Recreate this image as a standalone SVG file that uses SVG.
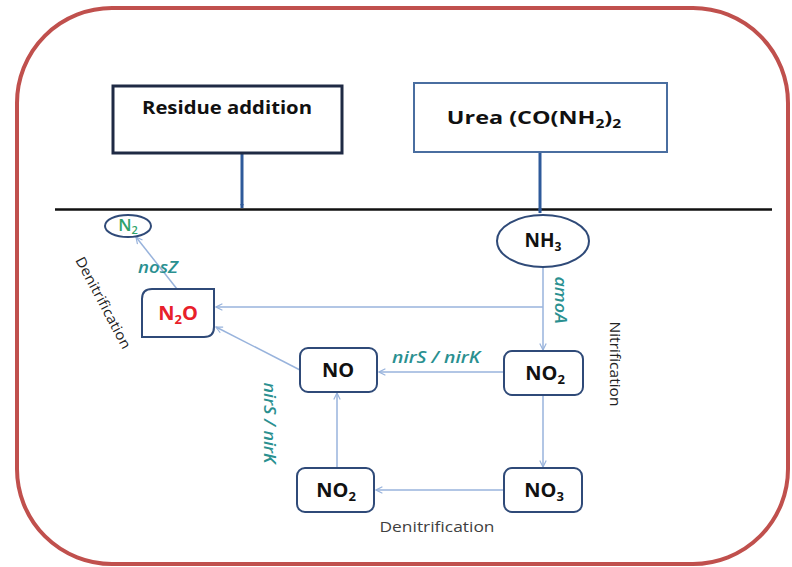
<svg xmlns="http://www.w3.org/2000/svg" width="792" height="567" viewBox="0 0 792 567">
<defs>
<style>
.node{fill:#fff;stroke:#2f4a78;stroke-width:2}
.lbl{font-family:"Open Sans","Liberation Sans",sans-serif;font-weight:bold;fill:#111;text-anchor:middle}
.gene{font-family:"Open Sans","Liberation Sans",sans-serif;font-style:italic;font-weight:600;fill:#2a9090;font-size:16px;text-anchor:middle}
.proc{font-family:"Open Sans","Liberation Sans",sans-serif;fill:#222;font-size:14px;text-anchor:middle}
.con{fill:none;stroke:#98b3dc;stroke-width:1.5;marker-end:url(#a)}
.feed{fill:none;stroke:#2f5a9a;stroke-width:3;marker-end:url(#b)}
</style>
<marker id="a" viewBox="0 0 10 10" refX="9" refY="5" markerWidth="8" markerHeight="8" markerUnits="userSpaceOnUse" orient="auto">
<path d="M1,1 L9,5 L1,9" fill="none" stroke="#98b3dc" stroke-width="1.5"/>
</marker>
<marker id="b" viewBox="0 0 10 10" refX="9" refY="5" markerWidth="5" markerHeight="5" markerUnits="userSpaceOnUse" orient="auto">
<path d="M0,1 L10,5 L0,9 Z" fill="#2f5a9a"/>
</marker>
</defs>
<rect x="17" y="8" width="771" height="556" rx="95" ry="95" fill="#fff" stroke="#c0504d" stroke-width="4"/>
<line x1="55" y1="209.5" x2="772" y2="209.5" stroke="#111" stroke-width="2.5"/>
<g id="connectors">
<path class="feed" d="M242,154 V208"/>
<path class="feed" d="M540,153 V213"/>
<path class="con" d="M543,267 V350"/>
<path class="con" d="M543,307 H216"/>
<path class="con" d="M504,372 H379"/>
<path class="con" d="M543,395 V467"/>
<path class="con" d="M504,490 H376"/>
<path class="con" d="M337,468 V393"/>
<path class="con" d="M300,370 L216,327"/>
<path class="con" d="M177,289 L136,237"/>
</g>
<g id="residue">
<rect x="113" y="86" width="229" height="67" fill="#fff" stroke="#1f2a44" stroke-width="3"/>
<text class="lbl" x="227" y="114" font-size="18" textLength="170" lengthAdjust="spacingAndGlyphs">Residue addition</text>
</g>
<g id="urea">
<rect x="414" y="83" width="253" height="69" fill="#fff" stroke="#4a6ea0" stroke-width="2"/>
<text class="lbl" transform="translate(534,124) scale(1.3,1)" x="0" y="0" font-size="18">Urea (CO(NH<tspan font-size="12" dy="4">2</tspan><tspan dy="-4">)</tspan><tspan font-size="12" dy="4">2</tspan></text>
</g>
<g id="n2">
<ellipse class="node" cx="128" cy="226" rx="23" ry="11"/>
<text x="128" y="231" font-family="Open Sans,Liberation Sans,sans-serif" font-weight="600" font-size="17" fill="#2fa36b" text-anchor="middle">N<tspan font-size="11" dy="3">2</tspan></text>
</g>
<g id="n2o">
<path class="node" d="M152,289 H214 V327 Q214,337 204,337 H142 V299 Q142,289 152,289 Z"/>
<text class="lbl" x="178" y="320" font-size="20" style="fill:#e8202a">N<tspan font-size="13" dy="4">2</tspan><tspan dy="-4">O</tspan></text>
</g>
<g id="nh3">
<ellipse class="node" cx="543" cy="241" rx="46" ry="26"/>
<text class="lbl" x="543" y="247" font-size="19">NH<tspan font-size="12" dy="4">3</tspan></text>
</g>
<g id="no2r">
<rect class="node" x="504" y="351" width="79" height="44" rx="8"/>
<text class="lbl" x="545" y="380" font-size="20">NO<tspan font-size="13" dy="4">2</tspan></text>
</g>
<g id="no3">
<rect class="node" x="504" y="468" width="78" height="44" rx="8"/>
<text class="lbl" x="544" y="497" font-size="20">NO<tspan font-size="13" dy="4">3</tspan></text>
</g>
<g id="no">
<rect class="node" x="300" y="348" width="77" height="44" rx="8"/>
<text class="lbl" x="338" y="377" font-size="20">NO</text>
</g>
<g id="no2l">
<rect class="node" x="297" y="468" width="77" height="44" rx="8"/>
<text class="lbl" x="336" y="497" font-size="20">NO<tspan font-size="13" dy="4">2</tspan></text>
</g>
<g id="labels">
<text class="gene" x="158" y="273" textLength="40" lengthAdjust="spacingAndGlyphs">nosZ</text>
<text class="gene" transform="translate(555,300) rotate(90)" x="0" y="0" textLength="47" lengthAdjust="spacingAndGlyphs">amoA</text>
<text class="gene" x="436" y="363" textLength="88" lengthAdjust="spacingAndGlyphs">nirS / nirK</text>
<text class="gene" transform="translate(264,423) rotate(90)" x="0" y="0" textLength="81" lengthAdjust="spacingAndGlyphs">nirS / nirK</text>
<text class="proc" transform="translate(99,305) rotate(62)" x="0" y="0" textLength="102" lengthAdjust="spacingAndGlyphs">Denitrification</text>
<text class="proc" transform="translate(610,364) rotate(90)" x="0" y="0" textLength="85" lengthAdjust="spacingAndGlyphs">Nitrification</text>
<text class="proc" x="437" y="532" style="fill:#404040" textLength="115" lengthAdjust="spacingAndGlyphs">Denitrification</text>
</g>
</svg>
